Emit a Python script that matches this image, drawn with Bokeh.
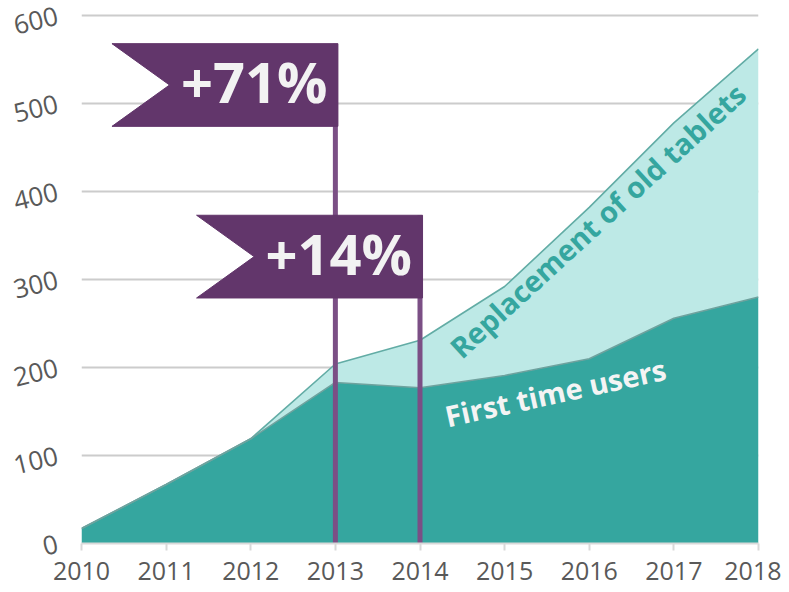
from bokeh.plotting import figure
from bokeh.models import ColumnDataSource, Range1d, FixedTicker
from bokeh.core.properties import value
from bokeh.embed import file_html
from bokeh.resources import INLINE

# ---- data ----
years = [2010, 2011, 2012, 2013, 2014, 2015, 2016, 2017, 2018]
first_time = [17, 67, 119, 183, 177, 191, 210, 256, 280]
replacement = [0, 0, 0, 21, 54, 101, 172, 222, 282]
y_ticks = [0, 100, 200, 300, 400, 500, 600]

flag_years = [2013, 2014]
flag_tops = [568, 373]
flag_texts = ["+71%", "+14%"]

series_labels = ["Replacement  of old tablets", "First time users"]
label_x = [2016.13, 2015.6]
label_y = [370, 172]
label_angle = [0.742, 0.215]
label_color = ["#35A69F", "#F4F4F4"]

# ---- styling constants ----
DARK = "#35A69F"
LIGHT = "#BDE9E6"
PURPLE = "#62366B"
POLE = "#7B4F85"
FLAG_W = 2.67     # years
FLAG_NOTCH = 0.68  # years
FLAG_H = 94       # units
FONT = "Open Sans"

total = [a + b for a, b in zip(first_time, replacement)]
src = ColumnDataSource(dict(year=years, first=first_time, repl=replacement,
                            total=total))

p = figure(width=781, height=591, output_backend="svg",
           toolbar_location=None, x_range=Range1d(2010, 2018),
           y_range=Range1d(0, 603.4), min_border_left=81, min_border_right=23,
           min_border_top=12, min_border_bottom=48)
p.outline_line_color = None
p.background_fill_color = "white"

p.varea_stack(["first", "repl"], x="year", source=src, color=[DARK, LIGHT])
p.line("year", "total", source=src, line_color="#62ACA5", line_width=1.6)
p.line("year", "first", source=src, line_color="#6FA29E", line_width=1.6)

# flag poles
p.segment(x0=flag_years, y0=[0, 0], x1=flag_years, y1=flag_tops,
          line_color=POLE, line_width=5)

# flags
xs, ys, tx, ty = [], [], [], []
for fy, top in zip(flag_years, flag_tops):
    left = fy - FLAG_W + 0.03
    right = fy + 0.03
    bot = top - FLAG_H
    xs.append([left, right, right, left, left + FLAG_NOTCH])
    ys.append([top, top, bot, bot, (top + bot) / 2])
    tx.append(fy - 0.96)
    ty.append((top + bot) / 2 + 4)
p.patches(xs, ys, fill_color=PURPLE, line_color=PURPLE, line_width=1)
p.text(x=tx, y=ty, text=flag_texts, text_font=value(FONT),
       text_font_style="bold", text_font_size="56px", text_color="#F2F2F2",
       text_align="center", text_baseline="middle")

# series labels
p.text(x=label_x, y=label_y, text=series_labels, angle=label_angle,
       text_font=value(FONT), text_font_style="bold", text_font_size="29px",
       text_color=label_color, text_align="center", text_baseline="middle")

# axes
p.xgrid.grid_line_color = None
p.ygrid.grid_line_color = "#CCCCCC"
p.ygrid.grid_line_width = 2
p.yaxis.ticker = FixedTicker(ticks=y_ticks)
p.xaxis.ticker = FixedTicker(ticks=years)
p.yaxis.axis_line_color = None
p.yaxis.major_tick_line_color = None
p.yaxis.minor_tick_line_color = None
p.yaxis.major_label_orientation = 0.24
p.yaxis.major_label_standoff = 18
p.yaxis.major_label_text_font_size = "26px"
p.yaxis.major_label_text_line_height = 1.0
p.xaxis.axis_line_color = "#D9D9D9"
p.xaxis.axis_line_width = 2
p.xaxis.major_tick_line_color = "#D9D9D9"
p.xaxis.major_tick_line_width = 2
p.xaxis.major_tick_out = 7
p.xaxis.major_tick_in = 0
p.xaxis.minor_tick_line_color = None
p.xaxis.major_label_standoff = 11
p.xaxis.major_label_text_font_size = "25px"
for ax in (p.xaxis, p.yaxis):
    ax.major_label_text_font = FONT
    ax.major_label_text_color = "#595959"

open("out.html", "w").write(file_html(p, INLINE))
